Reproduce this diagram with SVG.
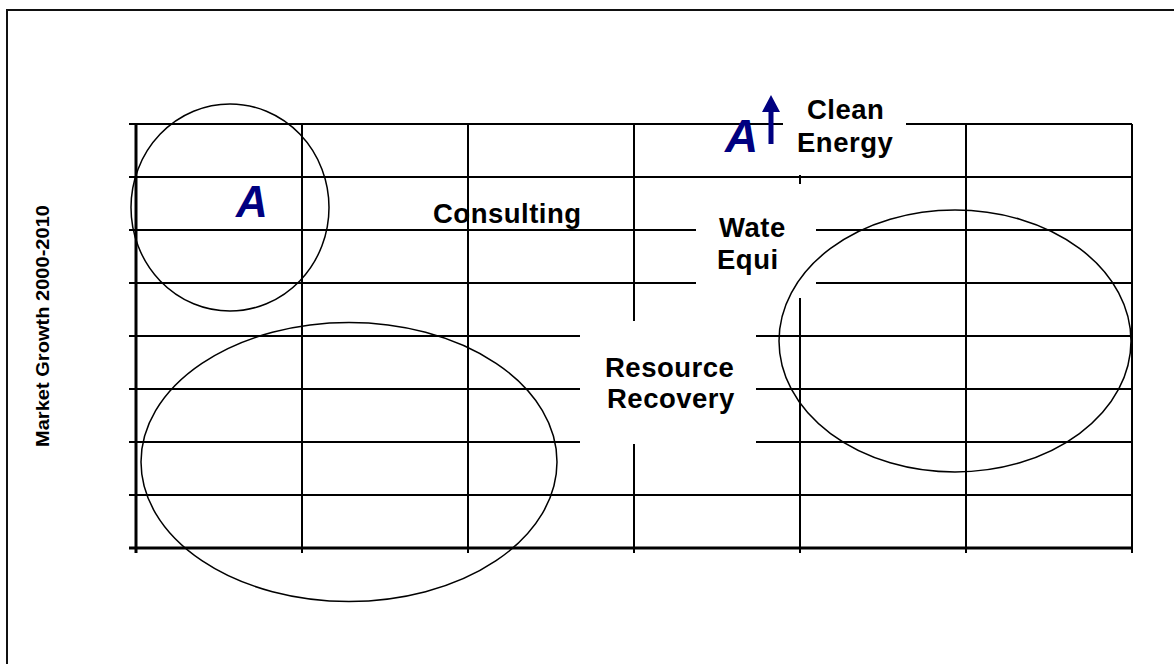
<svg xmlns="http://www.w3.org/2000/svg" width="1174" height="664" viewBox="0 0 1174 664">
  <style>
    .grid { stroke: #000; stroke-width: 2; fill: none; }
    .axis { stroke: #000; stroke-width: 3; fill: none; }
    .mask { fill: #fff; stroke: none; }
    .ring { fill: none; stroke: #000; stroke-width: 1.5; }
    .lbl { font-family: "Liberation Sans", Arial, sans-serif; font-weight: bold; font-size: 27.5px; letter-spacing: 0.5px; fill: #000; }
    .mark { font-family: "Liberation Sans", Arial, sans-serif; font-weight: bold; font-style: italic; fill: #000080; }
    .ytitle { font-family: "Liberation Sans", Arial, sans-serif; font-weight: bold; font-size: 19px; fill: #000; }
  </style>
  <rect x="0" y="0" width="1174" height="664" fill="#fff"/>
  <!-- frame -->
  <rect x="7" y="10" width="1200" height="700" fill="none" stroke="#111" stroke-width="2"/>

  <!-- connectors: chart grid -->
  <g id="connectors">
    <g class="grid">
      <line x1="129" y1="124" x2="1132" y2="124"/>
      <line x1="129" y1="177" x2="1132" y2="177"/>
      <line x1="129" y1="230" x2="1132" y2="230"/>
      <line x1="129" y1="283" x2="1132" y2="283"/>
      <line x1="129" y1="336" x2="1132" y2="336"/>
      <line x1="129" y1="389" x2="1132" y2="389"/>
      <line x1="129" y1="442" x2="1132" y2="442"/>
      <line x1="129" y1="495" x2="1132" y2="495"/>
      <line x1="302" y1="124" x2="302" y2="553"/>
      <line x1="468" y1="124" x2="468" y2="553"/>
      <line x1="634" y1="124" x2="634" y2="553"/>
      <line x1="800" y1="124" x2="800" y2="553"/>
      <line x1="966" y1="124" x2="966" y2="553"/>
      <line x1="1132" y1="124" x2="1132" y2="553"/>
    </g>
    <g class="axis">
      <line x1="136" y1="124" x2="136" y2="553"/>
      <line x1="129" y1="548" x2="1133" y2="548"/>
    </g>
  </g>

  <!-- label backgrounds -->
  <rect class="mask" x="783" y="100" width="123" height="75"/>
  <rect class="mask" x="696" y="184" width="120" height="114"/>
  <rect class="mask" x="580" y="321" width="176" height="123"/>

  <!-- segment groupings -->
  <g id="group-a">
    <ellipse class="ring" cx="230" cy="207.5" rx="99" ry="103.5"/>
    <text class="mark" x="236" y="217" font-size="44">A</text>
  </g>
  <g id="group-lower">
    <ellipse class="ring" cx="349" cy="462" rx="208" ry="139.5"/>
  </g>
  <g id="group-right">
    <ellipse class="ring" cx="955" cy="341" rx="176" ry="131"/>
  </g>

  <g id="consulting">
    <text class="lbl" x="433" y="223">Consulting</text>
  </g>
  <g id="clean-energy">
    <text class="mark" x="725" y="152" font-size="46">A</text>
    <polygon points="771,95 780,112 773.5,112 773.5,144 768.5,144 768.5,112 762,112" fill="#000080"/>
    <text class="lbl" x="807" y="119">Clean</text>
    <text class="lbl" x="797" y="152">Energy</text>
  </g>
  <g id="water-equipment">
    <text class="lbl" x="719" y="237">Wate</text>
    <text class="lbl" x="717" y="269">Equi</text>
  </g>
  <g id="resource-recovery">
    <text class="lbl" x="605" y="377">Resource</text>
    <text class="lbl" x="607" y="408">Recovery</text>
  </g>

  <g id="y-axis-title">
    <text class="ytitle" transform="translate(49,326) rotate(-90)" text-anchor="middle" textLength="242" lengthAdjust="spacingAndGlyphs">Market Growth 2000-2010</text>
  </g>
</svg>
